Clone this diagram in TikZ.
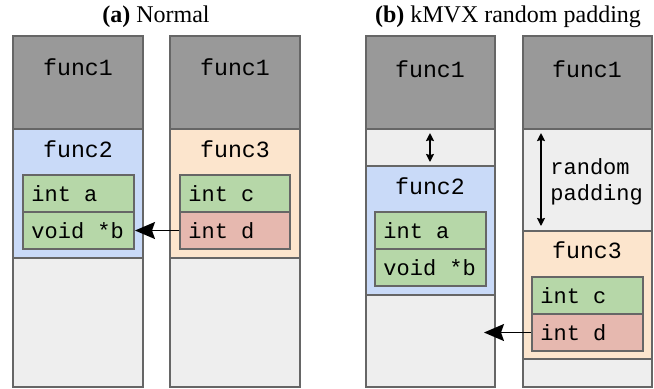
\documentclass[tikz,border=0pt]{standalone}
\usepackage{fontspec}
\setmainfont{Liberation Serif}
\setmonofont{Liberation Mono}
\usetikzlibrary{fit,positioning,calc,arrows.meta}

\definecolor{topgray}{HTML}{999999}
\definecolor{padgray}{HTML}{EEEEEE}
\definecolor{edgegray}{HTML}{666666}
\definecolor{f2blue}{HTML}{C9DAF8}
\definecolor{f3orange}{HTML}{FCE5CD}
\definecolor{vgreen}{HTML}{B6D7A8}
\definecolor{vred}{HTML}{E6B8AF}

\begin{document}
\begin{tikzpicture}[x=0.5pt, y=-0.5pt,
		seg/.style={draw=edgegray, line width=1pt, inner sep=0pt},
		fn/.style={font=\fontsize{11.6}{13}\selectfont\ttfamily, inner sep=0pt},
		vname/.style={font=\fontsize{11}{13}\selectfont\ttfamily, inner sep=0pt, anchor=west},
		ptr/.style={line width=0.8pt, -{Stealth[length=10pt, width=8.5pt, inset=1.5pt]}},
		pad/.style={line width=1pt, {Stealth[length=4pt, width=4pt, inset=0.5pt]}-{Stealth[length=4pt, width=4pt, inset=0.5pt]}},
		title/.style={font=\fontsize{12}{14}\selectfont, inner sep=0pt}]
	\useasboundingbox (0,0) rectangle (654,388);

	\node[title] (ta) at (156,17) {\textbf{(a)} Normal};
	\node[title] (tb) at (508,17) {\textbf{(b)} kMVX random padding};

	% (a) normal, caller stack
	\node[seg, fill=topgray, fit={(13,36) (143,129)}] (al-f1) {};
	\node[seg, fill=f2blue, fit={(13,129) (143,258)}] (al-f2) {};
	\node[seg, fill=padgray, fit={(13,258) (143,387)}] (al-rest) {};
	\node[fn] (al-f1-t) at (78,67) {func1};
	\node[fn] (al-f2-t) at (78,149) {func2};
	\node[seg, fill=vgreen, fit={(23,175) (134,212)}] (al-a) {};
	\node[seg, fill=vgreen, fit={(23,212) (134,249)}] (al-b) {};
	\node[vname] (al-a-t) at ($(al-a.west)+(9,0)$) {int a};
	\node[vname] (al-b-t) at ($(al-b.west)+(9,0)$) {void *b};

	% (a) normal, variant stack
	\node[seg, fill=topgray, fit={(170,36) (300,129)}] (ar-f1) {};
	\node[seg, fill=f3orange, fit={(170,129) (300,258)}] (ar-f3) {};
	\node[seg, fill=padgray, fit={(170,258) (300,387)}] (ar-rest) {};
	\node[fn] (ar-f1-t) at (235,67) {func1};
	\node[fn] (ar-f3-t) at (235,149) {func3};
	\node[seg, fill=vgreen, fit={(180,175) (290,212)}] (ar-c) {};
	\node[seg, fill=vred, fit={(180,212) (290,249)}] (ar-d) {};
	\node[vname] (ar-c-t) at ($(ar-c.west)+(9,0)$) {int c};
	\node[vname] (ar-d-t) at ($(ar-d.west)+(9,0)$) {int d};

	\draw[ptr] (ar-d.west) -- (al-b.east);

	% (b) random padding, caller stack
	\node[seg, fill=topgray, fit={(366,36) (495,129)}] (bl-f1) {};
	\node[seg, fill=padgray, fit={(366,129) (495,166)}] (bl-pad) {};
	\node[seg, fill=f2blue, fit={(366,166) (495,295)}] (bl-f2) {};
	\node[seg, fill=padgray, fit={(366,295) (495,387)}] (bl-rest) {};
	\node[fn] (bl-f1-t) at (430,69) {func1};
	\node[fn] (bl-f2-t) at (430,186) {func2};
	\node[seg, fill=vgreen, fit={(375,212) (486,249)}] (bl-a) {};
	\node[seg, fill=vgreen, fit={(375,249) (486,286)}] (bl-b) {};
	\node[vname] (bl-a-t) at ($(bl-a.west)+(9,0)$) {int a};
	\node[vname] (bl-b-t) at ($(bl-b.west)+(9,0)$) {void *b};
	\coordinate (bl-pad-top) at (430,133);
	\coordinate (bl-pad-bot) at (430,162);
	\draw[pad] (bl-pad-top) -- (bl-pad-bot);

	% (b) random padding, variant stack
	\node[seg, fill=topgray, fit={(523,36) (652,129)}] (br-f1) {};
	\node[seg, fill=padgray, fit={(523,129) (652,231)}] (br-pad) {};
	\node[seg, fill=f3orange, fit={(523,231) (652,359)}] (br-f3) {};
	\node[seg, fill=padgray, fit={(523,359) (652,387)}] (br-rest) {};
	\node[fn] (br-f1-t) at (587,69) {func1};
	\node[fn] (br-f3-t) at (587,250) {func3};
	\node[seg, fill=vgreen, fit={(532,277) (643,314)}] (br-c) {};
	\node[seg, fill=vred, fit={(532,314) (643,351)}] (br-d) {};
	\node[vname] (br-c-t) at ($(br-c.west)+(9,0)$) {int c};
	\node[vname] (br-d-t) at ($(br-d.west)+(9,0)$) {int d};
	\coordinate (br-pad-top) at (541,133);
	\coordinate (br-pad-bot) at (541,226);
	\draw[pad] (br-pad-top) -- (br-pad-bot);
	\node[vname, align=left] (br-pad-t) at (550,182) {random\\padding};

	\coordinate (bl-hit) at (484,332.5);
	\draw[ptr] (br-d.west) -- (bl-hit);
\end{tikzpicture}
\end{document}
